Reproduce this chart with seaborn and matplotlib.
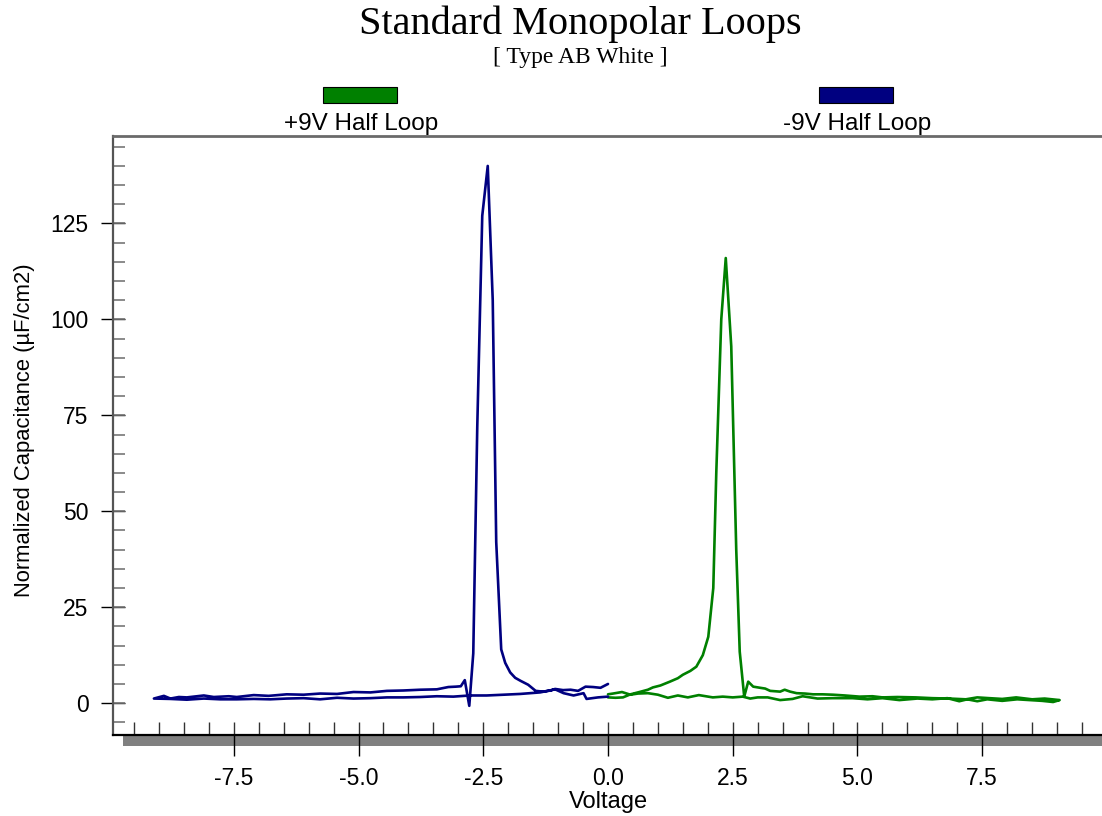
import matplotlib
matplotlib.use("Agg")
import matplotlib.pyplot as plt
from matplotlib.patches import Rectangle
from matplotlib.ticker import FixedLocator
import numpy as np
import pandas as pd
import seaborn as sns

# +9V half loop: sweep 0 -> +9 V (peak branch), then back to 0 V
pos_voltage = [0.0, 0.15, 0.30, 0.45, 0.63, 0.80, 0.90, 1.05, 1.24, 1.40, 1.50, 1.65,
               1.77, 1.90, 2.01, 2.11, 2.17, 2.27, 2.36, 2.47, 2.57, 2.64, 2.73, 2.81,
               2.91, 3.05, 3.15, 3.25, 3.45, 3.54, 3.65, 3.78, 3.95, 4.11, 4.30, 4.51,
               4.75, 5.04, 5.30, 5.50, 5.80, 6.17, 6.50, 6.84, 7.17, 7.40, 7.64, 7.90,
               8.18, 8.50, 8.75, 9.05,
               8.92, 8.70, 8.45, 8.20, 7.90, 7.60, 7.40, 7.20, 7.04, 6.80, 6.50, 6.20,
               5.84, 5.50, 5.20, 4.90, 4.50, 4.20, 3.90, 3.70, 3.45, 3.20, 3.00, 2.85,
               2.70, 2.50, 2.30, 2.10, 1.82, 1.60, 1.40, 1.20, 1.00, 0.80, 0.60, 0.45,
               0.28, 0.10, 0.0]
pos_capacitance = [1.5, 1.4, 1.5, 2.3, 2.9, 3.5, 4.1, 4.6, 5.6, 6.5, 7.4, 8.4,
                   9.5, 12.5, 17.3, 30.0, 60.0, 100.0, 116.0, 93.0, 40.0, 13.4, 1.7, 5.6,
                   4.3, 4.0, 3.8, 3.2, 3.0, 3.5, 3.0, 2.6, 2.5, 2.3, 2.3, 2.2,
                   2.0, 1.7, 1.8, 1.5, 1.6, 1.5, 1.3, 1.2, 1.0, 1.5, 1.3, 1.1,
                   1.5, 1.0, 1.2, 0.8,
                   0.3, 0.6, 0.8, 1.0, 0.6, 1.0, 0.5, 1.0, 0.5, 1.3, 1.0, 1.2,
                   0.8, 1.3, 1.0, 1.3, 1.3, 1.2, 1.8, 1.1, 0.8, 1.5, 1.5, 1.2,
                   1.7, 1.5, 1.7, 1.5, 2.1, 1.5, 2.0, 1.4, 2.2, 2.6, 2.5, 2.2,
                   2.9, 2.5, 2.3]

# -9V half loop: sweep 0 -> -9 V, then back to 0 V (peak branch)
neg_voltage = [0.0, -0.20, -0.43, -0.49, -0.69, -0.89, -1.06, -1.36, -1.76, -2.09,
               -2.43, -2.77, -3.10, -3.43, -3.76, -4.10, -4.43, -4.76, -5.10, -5.43,
               -5.77, -6.10, -6.44, -6.77, -7.10, -7.44, -7.77, -8.10, -8.44, -8.77,
               -9.10,
               -8.90, -8.77, -8.60, -8.44, -8.10, -7.90, -7.60, -7.44, -7.10, -6.80,
               -6.44, -6.10, -5.77, -5.43, -5.10, -4.76, -4.43, -4.10, -3.76, -3.43,
               -3.20, -3.05, -2.95, -2.87, -2.78, -2.70, -2.62, -2.52, -2.41, -2.31,
               -2.24, -2.14, -2.06, -1.96, -1.86, -1.75, -1.60, -1.45, -1.30, -1.15,
               -1.06, -0.90, -0.75, -0.60, -0.45, -0.30, -0.15, 0.0]
neg_capacitance = [1.7, 1.5, 1.1, 2.6, 2.0, 2.6, 3.6, 2.8, 2.4, 2.2,
                   2.0, 2.0, 1.7, 1.8, 1.6, 1.5, 1.5, 1.3, 1.2, 1.4,
                   1.0, 1.3, 1.2, 1.0, 1.1, 1.0, 1.0, 1.2, 0.9, 1.1,
                   1.2,
                   1.9, 1.2, 1.6, 1.5, 2.0, 1.6, 1.8, 1.6, 2.1, 1.9,
                   2.3, 2.2, 2.5, 2.4, 2.9, 2.8, 3.2, 3.3, 3.5, 3.6,
                   4.2, 4.3, 4.4, 6.0, -0.7, 13.0, 72.0, 127.0, 140.0, 105.0,
                   42.0, 14.0, 10.5, 8.0, 6.6, 5.8, 4.8, 3.2, 3.0, 3.3,
                   3.7, 3.4, 3.5, 3.2, 4.3, 4.2, 4.0, 5.0]

series_names = ["+9V Half Loop", "-9V Half Loop"]
series_colors = ["#008000", "#000080"]
x_tick_values = [-7.5, -5.0, -2.5, 0.0, 2.5, 5.0, 7.5]
y_tick_values = [0, 25, 50, 75, 100, 125]

df = pd.concat([
    pd.DataFrame({"Voltage": pos_voltage, "Capacitance": pos_capacitance,
                  "Series": series_names[0]}),
    pd.DataFrame({"Voltage": neg_voltage, "Capacitance": neg_capacitance,
                  "Series": series_names[1]}),
], ignore_index=True)

sns.set_theme(style="white")
plt.rcParams["font.family"] = ["Liberation Sans", "DejaVu Sans"]
plt.rcParams["text.color"] = "black"
plt.rcParams["axes.labelcolor"] = "black"
plt.rcParams["xtick.color"] = "black"
plt.rcParams["ytick.color"] = "black"

W, H = 1102, 816
fig = plt.figure(figsize=(W / 100, H / 100), dpi=100)
fig.patch.set_facecolor("white")
ax_left, ax_top, ax_right, ax_bottom = 113, 136, 1102, 735
ax = fig.add_axes([ax_left / W, 1 - ax_bottom / H,
                   (ax_right - ax_left) / W, (ax_bottom - ax_top) / H])

sns.lineplot(data=df, x="Voltage", y="Capacitance", hue="Series",
             hue_order=series_names, palette=dict(zip(series_names, series_colors)),
             sort=False, estimator=None, linewidth=1.9, legend=False, ax=ax)

ax.set_xlim(-9.92, 9.9)
ax.set_ylim(-8.3, 147.8)

# frame: left axis, top rule, bottom axis; no right side
ax.spines["right"].set_visible(False)
ax.spines["left"].set_color("#555555")
ax.spines["left"].set_linewidth(1.6)
ax.spines["top"].set_color("#6a6a6a")
ax.spines["top"].set_linewidth(2.0)
ax.spines["bottom"].set_color("black")
ax.spines["bottom"].set_linewidth(1.6)

# x ticks: long major ticks below, short minor ticks inside every 0.5 V
ax.xaxis.set_major_locator(FixedLocator(x_tick_values))
ax.xaxis.set_minor_locator(FixedLocator(np.arange(-9.5, 9.51, 0.5)))
ax.xaxis.remove_overlapping_locs = False
ax.set_xticklabels([f"{v:.1f}" for v in x_tick_values])
ax.tick_params(axis="x", which="major", direction="out", length=15, width=1.0,
               color="black", pad=8, labelsize=16.5, bottom=True)
ax.tick_params(axis="x", which="minor", direction="in", length=9.5, width=1.0,
               color="#333333", bottom=True)

# y ticks: major ticks crossing the axis, minor ticks inside every 5
ax.yaxis.set_major_locator(FixedLocator(y_tick_values))
ax.yaxis.set_minor_locator(FixedLocator(np.arange(-5, 146, 5)))
ax.yaxis.remove_overlapping_locs = False
ax.set_yticklabels([str(v) for v in y_tick_values])
ax.tick_params(axis="y", which="major", direction="inout", length=17, width=1.0,
               color="black", pad=9, labelsize=16.5, left=True)
ax.tick_params(axis="y", which="minor", direction="in", length=8.6, width=1.2,
               color="#777777", left=True)

ax.set_xlabel("Voltage", fontsize=17)
ax.xaxis.set_label_coords((608 - ax_left) / (ax_right - ax_left),
                          (ax_bottom - 802) / (ax_bottom - ax_top))
ax.xaxis.label.set_va("center")
ax.set_ylabel("Normalized Capacitance (µF/cm2)", fontsize=15.8)
ax.yaxis.set_label_coords((25 - ax_left) / (ax_right - ax_left),
                          (ax_bottom - 430) / (ax_bottom - ax_top))
ax.yaxis.label.set_va("center")

# shaded base under the x axis
ax.add_patch(Rectangle((10 / (ax_right - ax_left), -11 / (ax_bottom - ax_top)),
                       1.0, 10 / (ax_bottom - ax_top), transform=ax.transAxes,
                       facecolor="#808080", edgecolor="none", clip_on=False, zorder=0.5))

# titles
fig.text(580 / W, 1 - 24 / H, "Standard Monopolar Loops", ha="center", va="center",
         fontsize=29, family=["Liberation Serif", "DejaVu Serif"], color="black")
fig.text(580 / W, 1 - 58 / H, "[ Type AB White ]", ha="center", va="center",
         fontsize=17, family=["Liberation Serif", "DejaVu Serif"], color="black")

# legend swatches above the plot
legend_centers = [360, 856]
for name, color, cx in zip(series_names, series_colors, legend_centers):
    fig.add_artist(Rectangle(((cx - 37) / W, 1 - 103 / H), 74 / W, 16 / H,
                             transform=fig.transFigure, facecolor=color,
                             edgecolor="black", linewidth=0.8))
    fig.text((cx + 1) / W, 1 - 124 / H, name, ha="center", va="center", fontsize=17.5)

fig.savefig("out.png", dpi=100, facecolor="white")
